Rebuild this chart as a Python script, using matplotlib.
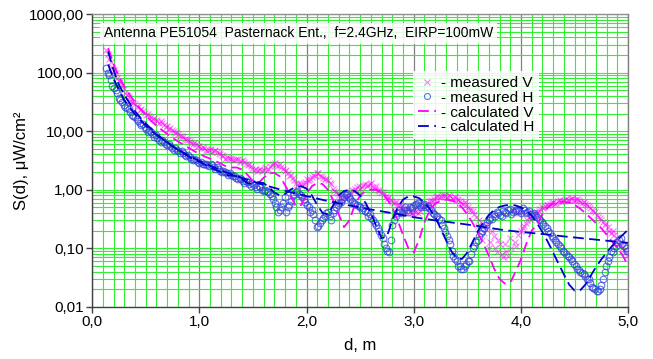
import numpy as np
import matplotlib
matplotlib.use("Agg")
import matplotlib.pyplot as plt
from matplotlib.ticker import FuncFormatter, LogLocator, MultipleLocator, NullFormatter

plt.rcParams['font.family'] = ['Liberation Sans', 'DejaVu Sans']

# --- data ---
# measurements, first pass: 0.13 ... 4.99 m
dist_meas = np.round(np.arange(0.13, 5.0, 0.03), 2)
meas_v = [
    240, 172, 125, 100, 73, 60, 45, 38, 31, 29,
    26, 24, 20.5, 19.5, 17.5, 17, 15.2, 14.8, 13, 12.5,
    11.5, 10.0, 9.6, 8.4, 8.0, 7.0, 6.8, 6.1, 6.0, 5.5,
    5.4, 4.8, 4.7, 4.4, 4.7, 4.2, 3.9, 3.4, 3.5, 3.3,
    3.2, 3.3, 3.1, 3.0, 2.6, 2.5, 2.2, 2.1, 2.3, 2.2,
    2.1, 2.5, 2.8, 2.6, 2.7, 2.3, 2.2, 1.7, 1.6, 1.3,
    1.3, 1.15, 1.35, 1.4, 1.65, 1.7, 1.9, 1.7, 1.55, 1.45,
    1.25, 0.95, 0.88, 0.72, 0.75, 0.76, 0.9, 0.95, 1.1, 1.05,
    1.2, 1.15, 1.25, 1.1, 1.15, 0.95, 0.92, 0.78, 0.74, 0.63,
    0.62, 0.53, 0.52, 0.44, 0.45, 0.4, 0.41, 0.4, 0.48, 0.52,
    0.58, 0.68, 0.7, 0.78, 0.76, 0.82, 0.75, 0.78, 0.7, 0.69,
    0.65, 0.58, 0.56, 0.46, 0.43, 0.34, 0.31, 0.14, 0.21, 0.1,
    0.2, 0.1, 0.14, 0.08, 0.12, 0.075, 0.1, 0.13, 0.17, 0.2,
    0.24, 0.3, 0.31, 0.39, 0.4, 0.47, 0.49, 0.56, 0.57, 0.62,
    0.6, 0.66, 0.64, 0.7, 0.67, 0.72, 0.68, 0.67, 0.6, 0.58,
    0.53, 0.45, 0.41, 0.34, 0.31, 0.25, 0.23, 0.18, 0.17, 0.13,
    0.11, 0.09, 0.075,
]
meas_h = [
    120, 92, 60, 50, 37, 32, 26, 24, 19, 17.5,
    15, 12.8, 12, 9.8, 9.5, 8.0, 7.7, 6.6, 6.5, 5.7,
    5.5, 4.8, 4.8, 4.2, 4.2, 3.7, 3.6, 3.2, 3.2, 2.9,
    2.8, 2.8, 2.5, 2.6, 2.3, 2.3, 2.0, 2.0, 1.8, 1.8,
    1.7, 1.5, 1.5, 1.3, 1.35, 1.15, 1.2, 1.05, 1.1, 0.95,
    0.95, 0.85, 0.7, 0.5, 0.45, 0.6, 0.42, 0.55, 0.8, 0.9,
    0.85, 0.75, 0.62, 0.5, 0.45, 0.3, 0.24, 0.3, 0.36, 0.42,
    0.3, 0.45, 0.55, 0.62, 0.75, 0.85, 0.7, 0.6, 0.55, 0.5,
    0.48, 0.42, 0.38, 0.3, 0.25, 0.2, 0.15, 0.1, 0.085, 0.25,
    0.35, 0.45, 0.4, 0.5, 0.42, 0.48, 0.55, 0.6, 0.5, 0.58,
    0.52, 0.45, 0.38, 0.35, 0.3, 0.22, 0.16, 0.12, 0.075, 0.06,
    0.05, 0.045, 0.055, 0.06, 0.1, 0.13, 0.16, 0.2, 0.25, 0.3,
    0.32, 0.36, 0.4, 0.35, 0.42, 0.45, 0.38, 0.44, 0.46, 0.4,
    0.45, 0.42, 0.38, 0.4, 0.34, 0.3, 0.26, 0.22, 0.18, 0.15,
    0.13, 0.11, 0.09, 0.08, 0.07, 0.06, 0.05, 0.042, 0.038, 0.034,
    0.03, 0.022, 0.02, 0.019, 0.024, 0.04, 0.06, 0.09, 0.1, 0.13,
    0.15, 0.11, 0.09,
]

# measurements, second pass: 0.145 ... 4.975 m
dist_meas_b = np.round(np.arange(0.145, 4.99, 0.03), 3)
meas_v_b = [
    205, 150, 110, 82, 68, 52, 42, 33, 30, 27,
    23, 22, 19, 18.5, 16, 15.8, 14, 13.8, 12, 11,
    10.5, 9.2, 9, 8.2, 7.3, 7.2, 6.3, 6.2, 5.6, 5.2,
    5.1, 4.6, 4.9, 4.5, 4.4, 4.0, 3.7, 3.6, 3.5, 3.2,
    3.4, 3.0, 3.2, 2.8, 2.7, 2.3, 2.3, 2.2, 2.1, 2.4,
    2.3, 2.6, 2.9, 2.5, 2.4, 2.1, 1.9, 1.8, 1.45, 1.2,
    1.25, 1.25, 1.5, 1.55, 1.8, 1.95, 1.75, 1.6, 1.5, 1.3,
    1.05, 0.9, 0.8, 0.7, 0.8, 0.82, 0.98, 1.05, 1.15, 1.1,
    1.25, 1.2, 1.3, 1.05, 1.0, 0.9, 0.85, 0.7, 0.66, 0.6,
    0.56, 0.55, 0.47, 0.48, 0.42, 0.38, 0.43, 0.44, 0.5, 0.56,
    0.64, 0.65, 0.74, 0.74, 0.8, 0.77, 0.8, 0.72, 0.74, 0.66,
    0.6, 0.62, 0.5, 0.45, 0.38, 0.24, 0.28, 0.18, 0.26, 0.13,
    0.16, 0.085, 0.12, 0.07, 0.09, 0.15, 0.45, 0.11, 0.4, 0.22,
    0.27, 0.34, 0.35, 0.42, 0.44, 0.5, 0.53, 0.55, 0.6, 0.58,
    0.64, 0.62, 0.68, 0.66, 0.7, 0.66, 0.7, 0.62, 0.63, 0.55,
    0.48, 0.44, 0.37, 0.33, 0.28, 0.27, 0.2, 0.2, 0.15, 0.12,
    0.1, 0.085,
]
meas_h_b = [
    100, 75, 55, 44, 34, 28, 25, 21, 18, 16,
    14, 13.5, 11, 10.5, 8.8, 8.5, 7.2, 7.0, 6.0, 6.0,
    5.2, 5.1, 4.5, 4.5, 3.9, 3.9, 3.4, 3.4, 3.0, 3.0,
    2.7, 2.65, 2.7, 2.4, 2.4, 2.1, 2.1, 1.9, 1.9, 1.7,
    1.6, 1.6, 1.4, 1.4, 1.25, 1.3, 1.1, 1.15, 1.0, 1.0,
    0.9, 0.78, 0.6, 0.42, 0.5, 0.75, 0.5, 0.65, 0.85, 0.95,
    0.8, 0.7, 0.55, 0.42, 0.38, 0.23, 0.27, 0.33, 0.4, 0.36,
    0.4, 0.5, 0.6, 0.7, 0.8, 0.75, 0.65, 0.58, 0.52, 0.45,
    0.44, 0.36, 0.33, 0.27, 0.22, 0.17, 0.12, 0.09, 0.14, 0.3,
    0.4, 0.42, 0.45, 0.46, 0.5, 0.52, 0.57, 0.55, 0.54, 0.5,
    0.48, 0.4, 0.36, 0.32, 0.25, 0.19, 0.14, 0.09, 0.065, 0.05,
    0.045, 0.05, 0.06, 0.08, 0.11, 0.14, 0.18, 0.22, 0.28, 0.33,
    0.38, 0.42, 0.37, 0.44, 0.4, 0.47, 0.42, 0.45, 0.43, 0.48,
    0.4, 0.44, 0.36, 0.37, 0.32, 0.28, 0.24, 0.2, 0.16, 0.14,
    0.12, 0.1, 0.085, 0.075, 0.065, 0.055, 0.045, 0.04, 0.036, 0.03,
    0.026, 0.021, 0.019, 0.02, 0.03, 0.05, 0.07, 0.085, 0.11, 0.14,
    0.12, 0.1,
]

# calculated curves: 0.15 ... 5.00 m
dist_calc = np.round(np.arange(0.15, 5.001, 0.05), 2)
calc_v = [
    260, 140, 85, 58, 42, 31, 24, 19, 15, 12.5,
    10.5, 9.0, 7.7, 6.7, 5.9, 5.2, 4.6, 4.1, 3.7, 3.4,
    3.1, 2.8, 2.5, 2.4, 2.4, 2.2, 1.8, 1.4, 1.3, 1.6,
    1.9, 1.95, 1.7, 1.2, 0.8, 0.52, 0.55, 0.85, 1.15, 1.3,
    1.25, 1.0, 0.65, 0.38, 0.23, 0.3, 0.55, 0.8, 0.95, 1.0,
    1.0, 0.9, 0.7, 0.5, 0.3, 0.17, 0.1, 0.085, 0.14, 0.28,
    0.45, 0.58, 0.65, 0.68, 0.66, 0.6, 0.5, 0.38, 0.27, 0.18,
    0.12, 0.075, 0.045, 0.03, 0.025, 0.026, 0.04, 0.065, 0.12, 0.2,
    0.26, 0.38, 0.5, 0.58, 0.62, 0.63, 0.6, 0.55, 0.48, 0.4,
    0.33, 0.27, 0.22, 0.17, 0.13, 0.1, 0.075, 0.05,
]
calc_h = [
    230, 110, 62, 42, 30, 22, 17, 13.5, 11, 9.0,
    7.6, 6.4, 5.5, 4.8, 4.2, 3.7, 3.3, 3.0, 2.7, 2.4,
    2.2, 2.0, 1.8, 1.75, 1.7, 1.5, 1.3, 1.25, 1.35, 1.3,
    1.1, 0.9, 0.8, 0.85, 1.0, 1.12, 1.15, 1.05, 0.8, 0.55,
    0.4, 0.38, 0.55, 0.8, 0.95, 1.0, 0.95, 0.8, 0.6, 0.4,
    0.24, 0.15, 0.16, 0.3, 0.5, 0.68, 0.77, 0.77, 0.72, 0.6,
    0.47, 0.34, 0.22, 0.14, 0.09, 0.068, 0.066, 0.085, 0.13, 0.2,
    0.28, 0.37, 0.45, 0.51, 0.54, 0.55, 0.54, 0.5, 0.44, 0.36,
    0.27, 0.19, 0.13, 0.085, 0.055, 0.036, 0.024, 0.019, 0.019, 0.024,
    0.034, 0.048, 0.065, 0.085, 0.11, 0.14, 0.17, 0.21,
]

# smooth (free space) H line
dist_free = [0.15, 0.2, 0.3, 0.4, 0.5, 0.6, 0.8, 1.0, 1.2, 1.4, 1.6, 1.8, 2.0, 2.2,
             2.4, 2.6, 2.8, 3.0, 3.2, 3.4, 3.6, 3.8, 4.0, 4.2, 4.4, 4.6, 4.8, 5.0]
free_h = [138, 78, 34, 19.4, 12.4, 8.6, 4.8, 3.1, 2.15, 1.58, 1.21, 0.96, 0.78, 0.64,
          0.54, 0.46, 0.40, 0.34, 0.30, 0.27, 0.24, 0.21, 0.19, 0.176, 0.16, 0.147, 0.135, 0.124]

TITLE = "Antenna PE51054  Pasternack Ent.,  f=2.4GHz,  EIRP=100mW"

MAGENTA = '#ff00ff'
BLUE = '#0000cc'
CIRCLE = '#3344dd'
GREEN = '#33ee33'

# --- plot ---
fig = plt.figure(figsize=(6.53, 3.59), dpi=100)
ax = fig.add_axes([0.141, 0.145, 0.821, 0.816])

ax.set_yscale('log')
ax.set_xlim(0, 5)
ax.set_ylim(0.01, 1000)

cross_kw = dict(ls='none', marker='x', ms=4.5, mew=0.8, color=MAGENTA, alpha=0.5, zorder=3)
circ_kw = dict(ls='none', marker='o', ms=4.8, mew=0.8, mfc='none', mec=CIRCLE, alpha=0.75, zorder=3)
ax.plot(dist_meas, meas_v, label='- measured V', **cross_kw)
ax.plot(dist_meas_b, meas_v_b, **cross_kw)
ax.plot(dist_meas, meas_h, label='- measured H', **circ_kw)
ax.plot(dist_meas_b, meas_h_b, **circ_kw)
ax.plot(dist_calc, calc_v, ls=(0, (6, 3)), lw=1.3, color=MAGENTA,
        label='- calculated V', zorder=4)
ax.plot(dist_calc, calc_h, ls=(0, (6, 3)), lw=1.3, color=BLUE,
        label='- calculated H', zorder=4)
ax.plot(dist_free, free_h, ls=(0, (6, 3)), lw=1.3, color=BLUE, zorder=4)

# axes, grid
ax.xaxis.set_major_locator(MultipleLocator(1.0))
ax.xaxis.set_minor_locator(MultipleLocator(0.1))
ax.yaxis.set_major_locator(LogLocator(base=10, numticks=10))
ax.yaxis.set_minor_locator(LogLocator(base=10, subs=np.arange(2, 10), numticks=20))
ax.yaxis.set_minor_formatter(NullFormatter())
ax.xaxis.set_major_formatter(FuncFormatter(lambda v, p: f"{v:.1f}".replace('.', ',')))
ax.yaxis.set_major_formatter(FuncFormatter(lambda v, p: f"{v:.2f}".replace('.', ',')))

ax.grid(True, which='minor', axis='both', color=GREEN, lw=0.8, zorder=0)
ax.grid(True, which='major', axis='y', color=GREEN, lw=0.8, zorder=0)
ax.grid(True, which='major', axis='x', color='#808080', lw=0.9, zorder=0)
ax.set_axisbelow(True)

ax.tick_params(which='major', length=4, width=1, color='#404040', labelsize=11, pad=2)
ax.tick_params(which='minor', length=0)
for s in ax.spines.values():
    s.set_color('#404040')
    s.set_linewidth(1)
ax.spines['top'].set_color('#909090')
ax.spines['right'].set_color('#808080')

ax.set_xlabel("d, m", fontsize=12, labelpad=6)
ax.set_ylabel("S(d), μW/cm²", fontsize=12)
ax.yaxis.set_label_coords(-0.118, 0.5)

ax.text(0.022, 0.935, TITLE, transform=ax.transAxes, fontsize=10, va='center', ha='left',
        zorder=6, bbox=dict(facecolor='white', edgecolor='none', alpha=0.85, pad=2.5))

leg = ax.legend(loc='upper left', bbox_to_anchor=(0.585, 0.83), fontsize=11,
                frameon=True, fancybox=False, framealpha=0.85, edgecolor='none',
                handlelength=1.2, handletextpad=0.3, labelspacing=0.05,
                borderpad=0.3, markerscale=0.9)
leg.set_zorder(7)

fig.savefig('out.png', dpi=100)
